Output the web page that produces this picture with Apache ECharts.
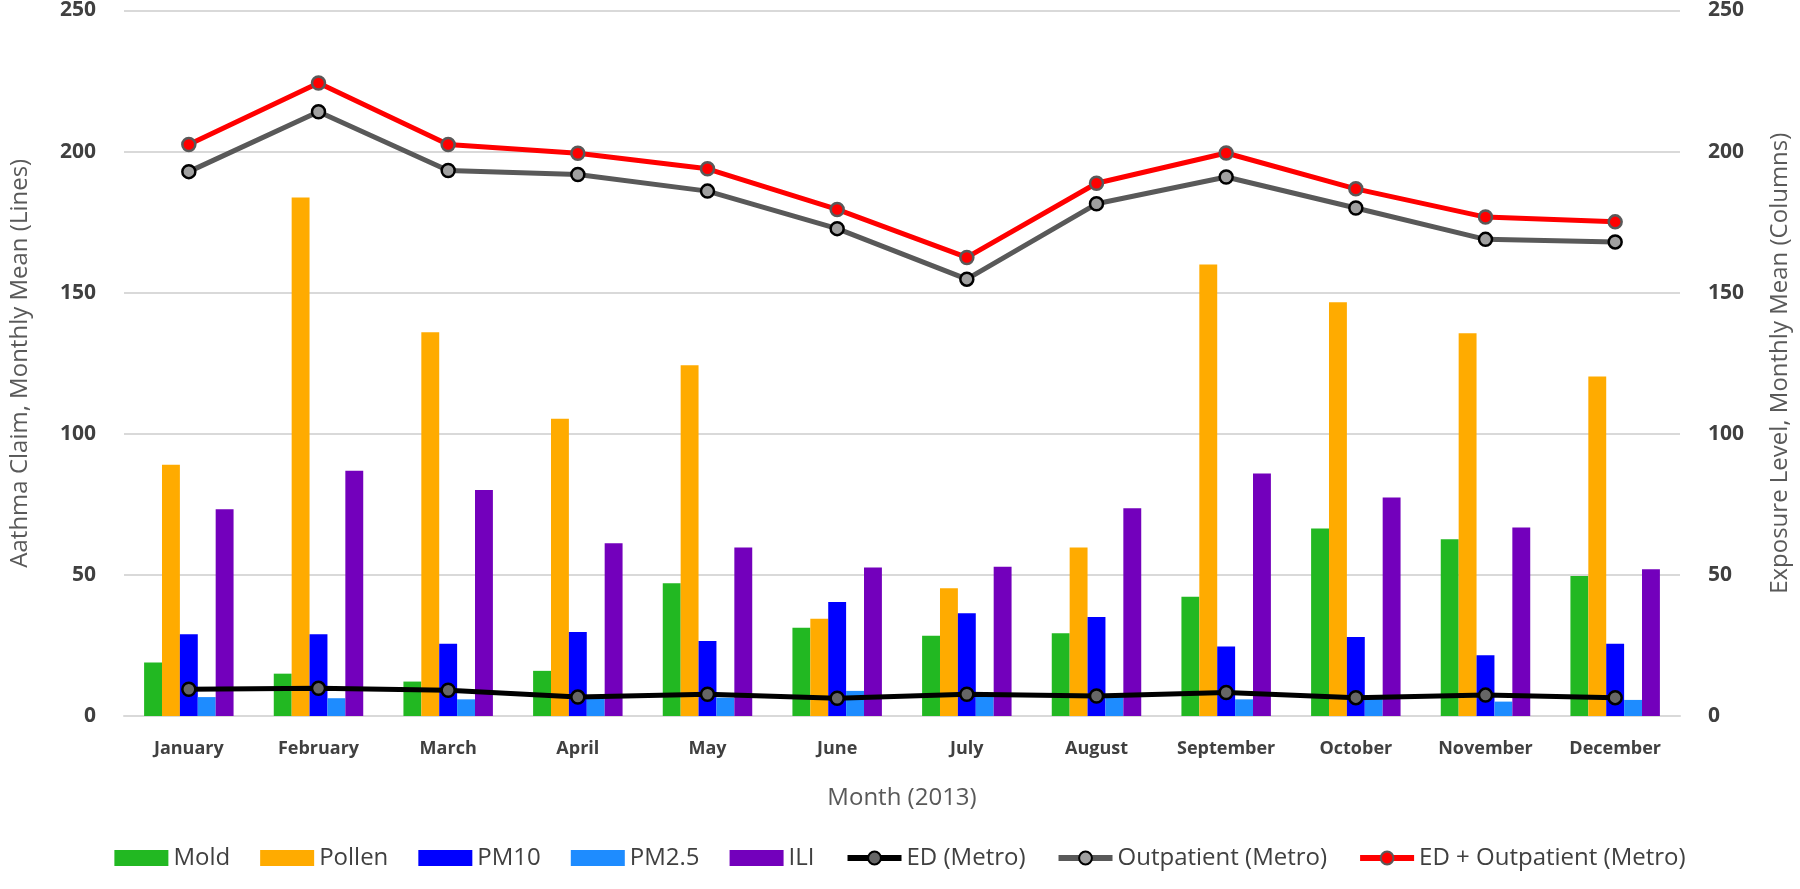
<!DOCTYPE html>
<html>
<head>
<meta charset="utf-8">
<script src="https://cdn.jsdelivr.net/npm/echarts@6/dist/echarts.min.js"></script>
<style>
html,body{margin:0;padding:0;background:#fff;}
#chart{width:1800px;height:889px;}
</style>
</head>
<body>
<div id="chart"></div>
<script>
const months = ['January','February','March','April','May','June','July','August','September','October','November','December'];
const mold = [19, 15, 12.2, 16, 47, 31.3, 28.4, 29.3, 42.3, 66.4, 62.6, 49.6];
const pollen = [89, 183.7, 136, 105.3, 124.3, 34.5, 45.3, 59.7, 160, 146.6, 135.6, 120.3];
const pm10 = [29, 29, 25.6, 29.8, 26.6, 40.4, 36.4, 35.1, 24.6, 28, 21.5, 25.6];
const pm25 = [6.7, 6.3, 5.9, 6.2, 6.5, 8.9, 7.5, 6.8, 5.9, 6.5, 5.1, 5.7];
const ili = [73.3, 86.9, 80.1, 61.2, 59.7, 52.6, 52.9, 73.6, 85.9, 77.4, 66.8, 52];
const edMetro = [9.5, 9.8, 9.1, 6.7, 7.7, 6.3, 7.7, 7.1, 8.3, 6.5, 7.4, 6.5];
const outpatientMetro = [192.9, 214.1, 193.3, 191.9, 186, 172.7, 154.8, 181.5, 191, 180, 168.9, 168];
const combinedMetro = [202.5, 224.3, 202.5, 199.4, 193.9, 179.5, 162.5, 188.8, 199.5, 186.8, 176.8, 175.1];
const yTicks = {min: 0, max: 250, interval: 50};

const txt = '#404040';
const chart = echarts.init(document.getElementById('chart'));

function bar(name, data, color) {
  return {
    name, type: 'bar', data, yAxisIndex: 1,
    barGap: '0%', barCategoryGap: '31%',
    itemStyle: {color},
    z: 2
  };
}
function line(name, data, color, fill, border) {
  return {
    name, type: 'line', data, yAxisIndex: 0,
    symbol: 'circle', symbolSize: 13,
    lineStyle: {color, width: 5},
    itemStyle: {color: fill, borderColor: border, borderWidth: 2.5},
    z: 5
  };
}

chart.setOption({
  animation: false,
  backgroundColor: '#fff',
  grid: {left: 112, right: 111, top: 10, bottom: 173, containLabel: false},
  legend: {
    bottom: 14,
    left: 'center',
    itemGap: 30,
    itemWidth: 54,
    itemHeight: 16,
    textStyle: {fontFamily: 'Open Sans', fontSize: 24, color: txt},
    data: [
      {name: 'Mold', icon: 'rect'},
      {name: 'Pollen', icon: 'rect'},
      {name: 'PM10', icon: 'rect'},
      {name: 'PM2.5', icon: 'rect'},
      {name: 'ILI', icon: 'rect'},
      {name: 'ED (Metro)', lineStyle: {width: 6}},
      {name: 'Outpatient (Metro)', lineStyle: {width: 6}},
      {name: 'ED + Outpatient (Metro)', lineStyle: {width: 6}}
    ]
  },
  xAxis: {
    type: 'category',
    data: months,
    name: 'Month (2013)',
    nameLocation: 'middle',
    nameGap: 70,
    nameTextStyle: {fontFamily: 'Open Sans', fontSize: 24, color: '#595959'},
    axisTick: {show: false},
    axisLine: {lineStyle: {color: '#d9d9d9', width: 2}},
    axisLabel: {fontFamily: 'Open Sans', fontWeight: 'bold', fontSize: 18, color: txt, margin: 24, interval: 0}
  },
  yAxis: [
    {
      type: 'value', min: yTicks.min, max: yTicks.max, interval: yTicks.interval,
      name: 'Aathma Claim, Monthly Mean (Lines)',
      nameLocation: 'middle', nameGap: 92, nameRotate: 90,
      nameTextStyle: {fontFamily: 'Liberation Sans Narrow, Open Sans', fontSize: 24, color: '#595959'},
      axisLabel: {fontFamily: 'Open Sans', fontWeight: 'bold', fontSize: 21, color: txt, margin: 28},
      splitLine: {lineStyle: {color: '#d9d9d9', width: 2}},
      axisLine: {show: false}, axisTick: {show: false}
    },
    {
      type: 'value', min: yTicks.min, max: yTicks.max, interval: yTicks.interval,
      name: 'Exposure Level, Monthly Mean (Columns)',
      nameLocation: 'middle', nameGap: 88, nameRotate: 90,
      nameTextStyle: {fontFamily: 'Liberation Sans Narrow, Open Sans', fontSize: 24, color: '#595959'},
      axisLabel: {fontFamily: 'Open Sans', fontWeight: 'bold', fontSize: 21, color: txt, margin: 28},
      splitLine: {show: false},
      axisLine: {show: false}, axisTick: {show: false}
    }
  ],
  series: [
    bar('Mold', mold, '#22B822'),
    bar('Pollen', pollen, '#FFAB00'),
    bar('PM10', pm10, '#0000FF'),
    bar('PM2.5', pm25, '#1E8CFF'),
    bar('ILI', ili, '#7300BC'),
    line('ED (Metro)', edMetro, '#000000', '#666666', '#000000'),
    line('Outpatient (Metro)', outpatientMetro, '#595959', '#A0A0A0', '#000000'),
    line('ED + Outpatient (Metro)', combinedMetro, '#FF0000', '#FF0000', '#595959')
  ]
});
</script>
</body>
</html>
